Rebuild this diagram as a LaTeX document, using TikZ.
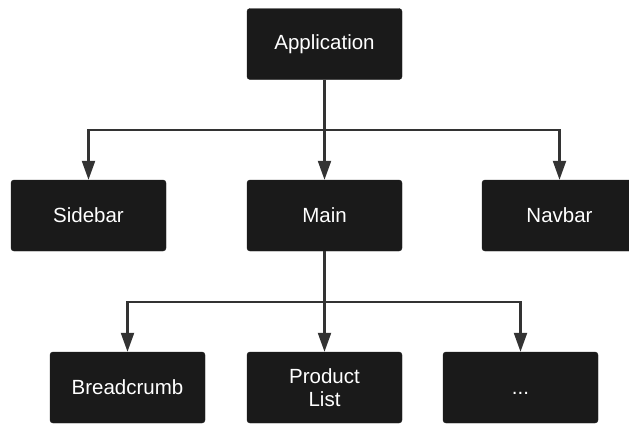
\documentclass[tikz,border=0pt]{standalone}
\usepackage{fontspec}
\setmainfont{Liberation Sans}
\usetikzlibrary{arrows.meta}
\definecolor{boxfill}{HTML}{1A1A1A}
\definecolor{linecol}{HTML}{333333}
\tikzset{
  block/.style={rectangle, rounded corners=3pt, fill=boxfill, draw=boxfill,
    minimum width=155pt, minimum height=71pt, inner sep=0pt,
    text=white, font=\fontsize{20.5}{23.5}\selectfont, align=center},
  arr/.style={draw=linecol, line width=2.2pt,
    -{Triangle[length=19pt, width=13pt]}}
}
\begin{document}
\begin{tikzpicture}[x=1pt, y=-1pt]
\useasboundingbox (0,0) rectangle (629,423);
\fill[white] (0,0) rectangle (629,423);
\node[block] (app) at (324.5,44) {Application};
\node[block] (sidebar) at (88.5,215.5) {Sidebar};
\node[block] (main) at (324.5,215.5) {Main};
\node[block] (navbar) at (559.5,215.5) {Navbar};
\node[block] (bread) at (127.5,387.5) {Breadcrumb};
\node[block] (prod) at (324.5,387.5) {Product\\List};
\node[block] (dots) at (520.5,387.5) {\vphantom{S}...};
\coordinate (j1) at (324.5,130);
\coordinate (j2) at (324.5,302);
\draw[draw=linecol, line width=2.2pt] (app.south) -- (j1);
\draw[arr] (j1) -| (sidebar.north);
\draw[arr] (j1) -- (main.north);
\draw[arr] (j1) -| (navbar.north);
\draw[draw=linecol, line width=2.2pt] (main.south) -- (j2);
\draw[arr] (j2) -| (bread.north);
\draw[arr] (j2) -- (prod.north);
\draw[arr] (j2) -| (dots.north);
\end{tikzpicture}
\end{document}
